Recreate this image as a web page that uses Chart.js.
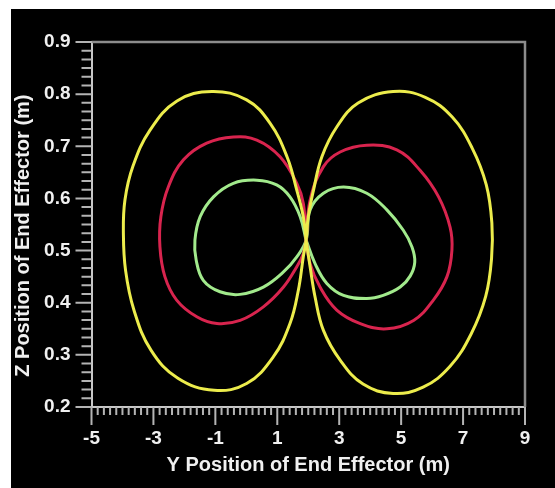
<!DOCTYPE html>
<html lang="en">
  <head>
    <meta charset="UTF-8" />
    <title>End Effector Path</title>
    <script src="https://cdn.jsdelivr.net/npm/chart.js"></script>
    <style>
      html, body { margin: 0; padding: 0; background: #fff; }
      #wrap { width: 555px; height: 488px; position: relative; }
    </style>
  </head>
  <body>
    <div id="wrap"><canvas id="myChart"></canvas></div>

    <script>
      // points; every loop starts and ends at the crossing
      var yellowY = [1.93,
        1.84, 1.63, 1.32, 0.77, 0.01, -1.11, -2.24, -3.11, -3.66, -3.92, -3.97, -3.90, -3.63, -3.08, -2.21, -1.04,
        0.01, 0.87, 1.41, 1.68, 1.84, 1.93,
        2.00, 2.17, 2.44, 2.92, 3.61, 4.74, 5.78, 6.65, 7.29, 7.75, 7.93, 7.92, 7.73, 7.26, 6.58, 5.71,
        4.74, 3.77, 3.03, 2.49, 2.22, 2.06, 1.93];
      var yellowZ = [0.520,
        0.565, 0.616, 0.679, 0.744, 0.789, 0.805, 0.787, 0.731, 0.662, 0.597, 0.533, 0.462, 0.386, 0.309, 0.255, 0.232,
        0.245, 0.296, 0.360, 0.424, 0.488, 0.520,
        0.565, 0.616, 0.680, 0.737, 0.783, 0.805, 0.794, 0.756, 0.697, 0.626, 0.553, 0.485, 0.412, 0.340, 0.278, 0.238,
        0.226, 0.244, 0.290, 0.347, 0.411, 0.469, 0.520];

      var redY = [1.93,
        1.84, 1.63, 1.09, 0.34, -0.42, -1.28, -2.03, -2.52, -2.76, -2.79, -2.63, -2.25, -1.60, -0.95, -0.20,
        0.55, 1.20, 1.63, 1.84, 1.93,
        2.06, 2.49, 3.03, 3.89, 4.86, 5.61, 6.21, 6.58, 6.64, 6.48, 6.04, 5.40, 4.54, 3.68, 2.92, 2.38, 2.06, 1.93];
      var redZ = [0.520,
        0.591, 0.629, 0.680, 0.712, 0.718, 0.706, 0.674, 0.622, 0.565, 0.507, 0.450, 0.405, 0.373, 0.360, 0.366,
        0.392, 0.430, 0.469, 0.494, 0.520,
        0.597, 0.661, 0.689, 0.702, 0.693, 0.654, 0.603, 0.545, 0.501, 0.450, 0.405, 0.366, 0.350, 0.360, 0.386, 0.430, 0.475, 0.520];

      var greenY = [1.93,
        1.74, 1.41, 0.98, 0.34, -0.42, -1.06, -1.49, -1.66, -1.62, -1.39, -0.85, -0.20, 0.55, 1.20, 1.63, 1.93,
        2.06, 2.49, 3.14, 3.89, 4.54, 5.07, 5.35, 5.44, 5.29, 4.97, 4.42, 3.89, 3.14, 2.60, 2.22, 1.93];
      var greenZ = [0.520,
        0.565, 0.603, 0.626, 0.635, 0.629, 0.603, 0.565, 0.520, 0.482, 0.443, 0.421, 0.416, 0.430, 0.459, 0.488, 0.520,
        0.578, 0.610, 0.622, 0.610, 0.578, 0.539, 0.507, 0.478, 0.451, 0.430, 0.414, 0.408, 0.414, 0.437, 0.475, 0.520];

      var xTicks = [-5, -3, -1, 1, 3, 5, 7, 9];
      var zTicks = [0.2, 0.3, 0.4, 0.5, 0.6, 0.7, 0.8, 0.9];

      function toPoints(xs, ys) {
        return xs.map(function (v, i) { return { x: v, y: ys[i] }; });
      }

      function loop(xs, ys, color) {
        return {
          data: toPoints(xs, ys),
          showLine: true,
          borderColor: color,
          borderWidth: 3,
          pointRadius: 0,
          tension: 0.4,
          fill: false,
        };
      }

      // black panel, frame and the small ticks
      var frame = {
        id: "frame",
        beforeDraw: function (chart) {
          var c = chart.ctx;
          c.save();
          c.fillStyle = "#000";
          c.fillRect(11, 9, chart.width - 11, chart.height - 9);
          c.restore();
        },
        afterDraw: function (chart) {
          var c = chart.ctx;
          var a = chart.chartArea;
          var xs = chart.scales.x;
          var ys = chart.scales.y;
          c.save();
          c.strokeStyle = "#8c8c8c";
          c.lineWidth = 2.5;
          c.beginPath();
          c.moveTo(a.left, a.top);
          c.lineTo(a.right, a.top);
          c.lineTo(a.right, a.bottom);
          c.stroke();

          c.strokeStyle = "#b4b4b4";
          c.lineWidth = 2;
          c.beginPath();
          for (var i = 0; i <= 70; i++) {
            var px = xs.getPixelForValue(xTicks[0] + i * 0.2);
            var len = i % 10 === 0 ? 18 : 8;
            c.moveTo(px, a.bottom);
            c.lineTo(px, a.bottom + len);
          }
          for (var j = 0; j <= 42; j++) {
            var py = ys.getPixelForValue(zTicks[0] + j * (0.1 / 6));
            var l2 = j % 6 === 0 ? 16 : 10;
            c.moveTo(a.left, py);
            c.lineTo(a.left - l2, py);
          }
          c.stroke();
          c.restore();
        },
      };

      var ctx = document.getElementById("myChart").getContext("2d");
      var myChart = new Chart(ctx, {
        type: "scatter",
        data: {
          datasets: [
            loop(yellowY, yellowZ, "#ecec4c"),
            loop(redY, redZ, "#d8244e"),
            loop(greenY, greenZ, "#a2ea8c"),
          ],
        },
        options: {
          responsive: true,
          maintainAspectRatio: false,
          animation: false,
          layout: { padding: { left: 11, top: 42, right: 30, bottom: 0 } },
          plugins: { legend: { display: false }, tooltip: { enabled: false } },
          scales: {
            x: {
              type: "linear",
              min: -5,
              max: 9,
              afterFit: function (s) { s.height = 81; },
              afterBuildTicks: function (s) {
                s.ticks = xTicks.map(function (v) { return { value: v }; });
              },
              grid: { display: false, drawTicks: false },
              border: { display: true, color: "#c8c8c8", width: 2 },
              ticks: {
                color: "#f0f0f0",
                padding: 20,
                maxRotation: 0,
                font: { family: "Liberation Sans", size: 19, weight: "bold" },
                callback: function (v) { return String(v); },
              },
              title: {
                display: true,
                text: "Y Position of End Effector (m)",
                color: "#f0f0f0",
                padding: { top: 0, bottom: 11 },
                font: { family: "Liberation Sans", size: 20, weight: "bold" },
              },
            },
            y: {
              type: "linear",
              min: 0.2,
              max: 0.9,
              afterFit: function (s) { s.width = 80.5; },
              afterBuildTicks: function (s) {
                s.ticks = zTicks.map(function (v) { return { value: v }; });
              },
              grid: { display: false, drawTicks: false },
              border: { display: true, color: "#c8c8c8", width: 2 },
              ticks: {
                color: "#f0f0f0",
                padding: 21,
                font: { family: "Liberation Sans", size: 19, weight: "bold" },
                callback: function (v) { return Number(v).toFixed(1); },
              },
              title: {
                display: true,
                text: "Z Position of End Effector (m)    ",
                color: "#f0f0f0",
                padding: { top: 0, bottom: 0 },
                font: { family: "Liberation Sans", size: 20, weight: "bold" },
              },
            },
          },
        },
        plugins: [frame],
      });
    </script>
  </body>
</html>
